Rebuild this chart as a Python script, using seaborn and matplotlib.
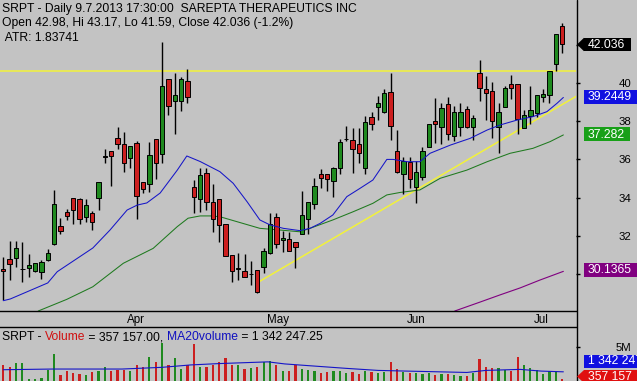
import numpy as np
import pandas as pd
import matplotlib
matplotlib.use("Agg")
import matplotlib.pyplot as plt
import seaborn as sns
from matplotlib.lines import Line2D
from matplotlib.patches import Polygon, Rectangle
import matplotlib.transforms as mtransforms

# ---------------- data ----------------
opens = [30.25, 30.77, 30.82, 30.25, 30.33, 30.17, 30.12, 30.73, 31.55, 32.50,
         33.25, 33.96, 33.91, 33.00, 33.19, 33.96, 36.14, 36.42, 37.10, 36.79,
         36.06, 36.84, 34.83, 34.71, 37.05, 36.27, 40.19, 39.04, 39.04, 40.12,
         34.53, 33.94, 35.30, 33.78, 33.91, 32.60, 30.99, 30.25, 30.17, 29.98,
         30.21, 30.35, 31.08, 33.00, 31.78, 31.83, 31.66, 32.09, 32.86, 33.65,
         35.22, 35.22, 34.87, 35.53, 37.07, 37.02, 36.79, 35.57, 38.20, 38.73,
         38.50, 39.51, 36.44, 35.22, 35.88, 34.57, 35.09, 36.66, 38.01, 37.71,
         38.88, 37.24, 37.71, 38.62, 37.71, 40.51, 39.69, 39.58, 37.71, 38.76,
         39.93, 39.93, 37.63, 38.27, 38.41, 39.25, 39.37, 40.98, 42.98]
highs = [30.91, 31.73, 31.73, 31.66, 31.05, 30.60, 30.73, 31.29, 34.40, 32.95,
         33.40, 33.96, 33.96, 33.94, 33.30, 34.80, 36.53, 36.42, 37.71, 37.42,
         36.70, 36.98, 34.83, 36.90, 37.05, 42.16, 40.19, 40.54, 40.30, 40.72,
         34.92, 35.53, 35.53, 34.70, 33.91, 32.60, 30.99, 31.08, 31.05, 30.68,
         30.21, 31.34, 33.21, 33.21, 32.25, 32.21, 31.66, 34.35, 33.78, 35.01,
         35.48, 35.22, 35.62, 37.05, 37.75, 37.66, 37.66, 38.27, 38.50, 39.32,
         39.67, 40.51, 37.54, 36.14, 36.14, 35.93, 36.66, 37.84, 39.20, 38.97,
         39.25, 38.80, 38.94, 38.80, 38.32, 41.20, 40.37, 40.07, 38.94, 39.84,
         40.42, 39.93, 38.59, 39.84, 39.37, 39.69, 40.63, 42.57, 43.17]
lows = [28.64, 29.69, 30.35, 29.60, 29.86, 30.12, 29.72, 30.70, 31.52, 32.09,
        32.83, 32.60, 32.62, 32.74, 32.30, 33.35, 35.83, 34.62, 36.54, 35.36,
        35.53, 32.86, 34.22, 34.31, 34.96, 35.80, 38.32, 37.33, 38.55, 38.94,
        33.18, 33.26, 33.35, 32.21, 31.69, 30.94, 29.60, 29.69, 29.83, 29.42,
        28.99, 30.07, 31.05, 31.34, 31.17, 31.20, 30.30, 32.07, 32.08, 33.39,
        34.49, 34.36, 34.05, 35.22, 36.96, 35.30, 35.80, 35.22, 37.54, 38.06,
        38.44, 37.02, 35.27, 34.19, 34.49, 33.70, 34.92, 36.64, 36.84, 36.81,
        37.02, 36.96, 37.22, 37.63, 37.02, 39.06, 38.06, 37.14, 36.35, 38.76,
        39.15, 37.31, 37.63, 37.84, 38.24, 38.99, 38.94, 40.63, 41.59]
closes = [30.14, 30.51, 31.34, 30.25, 30.45, 30.56, 30.61, 31.08, 33.66, 32.27,
          33.05, 33.33, 32.86, 33.60, 32.71, 34.80, 36.14, 36.19, 36.79, 35.80,
          36.70, 34.08, 34.43, 36.21, 35.83, 39.86, 38.80, 39.36, 40.19, 39.28,
          34.03, 35.18, 33.75, 32.86, 32.55, 30.96, 30.17, 30.33, 29.83, 29.98,
          29.07, 31.20, 32.62, 31.55, 31.90, 31.22, 31.43, 33.09, 33.78, 34.61,
          35.04, 34.96, 35.53, 36.90, 37.07, 36.53, 36.35, 37.97, 37.84, 38.97,
          39.49, 37.75, 35.32, 35.93, 34.96, 35.32, 36.44, 37.84, 37.84, 38.68,
          37.31, 38.50, 38.50, 37.71, 38.18, 39.75, 39.49, 38.01, 38.50, 39.75,
          39.72, 38.10, 38.32, 38.59, 39.37, 39.42, 40.63, 42.57, 42.036]
volumes_m = [2.3, 2.1, 2.6, 2.6, 0.3, 0.3, 0.4, 1.6, 3.95, 0.9,
             1.4, 1.1, 1.0, 0.9, 1.3, 1.5, 2.1, 1.5, 1.6, 1.6,
             1.5, 2.3, 2.1, 3.5, 2.8, 5.5, 2.4, 3.3, 1.8, 2.3,
             5.4, 2.1, 2.1, 2.3, 2.8, 3.3, 2.4, 2.3, 1.8, 1.9,
             2.1, 2.8, 2.9, 2.3, 1.4, 1.5, 2.3, 1.8, 1.6, 1.5,
             1.1, 1.3, 1.4, 1.4, 1.2, 1.3, 1.0, 1.5, 1.3, 1.2,
             1.3, 2.8, 1.8, 1.3, 1.2, 1.1, 1.0, 1.1, 0.9, 1.0,
             1.0, 0.9, 0.8, 0.8, 1.2, 3.2, 2.1, 1.9, 1.9, 1.6,
             1.5, 3.5, 2.3, 1.9, 1.6, 1.0, 1.5, 1.5, 0.36]

ma20_idx = [0, 1.1, 7.0, 8.5, 14.1, 16.8, 19.5, 21.1, 22.6, 24.7, 27.4, 28.9, 31.0,
            34.1, 36.2, 38.4, 40.4, 42.0, 44.1, 46.7, 48.3, 49.9, 51.9, 54.1,
            56.2, 58.2, 60.4, 61.4, 63.6, 65.6, 67.2, 70.4, 73.5, 76.2, 78.2,
            80.9, 83.4, 85.6, 87.2, 88.2]
ma20_val = [28.6, 28.69, 29.53, 30.12, 31.36, 32.30, 33.35, 33.61, 33.72, 34.24, 35.44,
            36.18, 35.89, 35.36, 34.75, 33.78, 32.83, 32.57, 32.39, 32.27, 32.39,
            32.65, 33.09, 34.05, 34.49, 34.92, 36.00, 36.00, 35.88, 35.88, 36.32,
            36.75, 37.10, 37.54, 37.80, 38.06, 38.24, 38.50, 38.94, 39.2449]
ma50_idx = [5.5, 10.0, 14.1, 18.9, 23.6, 27.4, 29.1, 31.0, 32.6, 34.1, 37.3, 40.4,
            43.6, 46.7, 48.3, 51.9, 55.1, 58.2, 60.4, 62.5, 65.6, 68.8, 73.0,
            76.2, 79.8, 83.4, 86.1, 88.2]
ma50_val = [28.06, 28.67, 29.33, 30.56, 31.34, 32.48, 32.92, 33.04, 33.04, 33.00,
            32.69, 32.39, 32.30, 32.21, 32.39, 32.83, 33.26, 33.70, 34.14, 34.27,
            34.40, 35.01, 35.44, 35.88, 36.32, 36.58, 36.93, 37.282]
ma200_idx = [71.1, 75.1, 78.2, 81.4, 84.5, 88.2]
ma200_val = [28.06, 28.53, 28.90, 29.27, 29.68, 30.1365]
volma_idx = [0, 7.8, 18.7, 25.0, 29.5, 34.0, 41.7, 44.3, 48.0, 54.0, 59.0, 63.5,
             73.0, 76.0, 81.4, 84.7, 88.2]
volma_val = [1.65, 1.75, 1.75, 2.00, 2.35, 2.55, 2.80, 2.50, 2.25, 1.85, 1.55,
             1.45, 1.25, 1.55, 1.70, 1.45, 1.342]

resistance = 40.63
trend_idx = [40, 90.2]
trend_val = [29.54, 39.30]

month_idx = [19, 41, 63, 83]
month_labels = ["Apr", "May", "Jun", "Jul"]
price_ticks = [30, 32, 34, 36, 38, 40, 42]
price_tick_labels = ["", "32", "34", "36", "38", "40", "42"]
vol_ticks = [5]
vol_tick_labels = ["5M"]

header_lines = ["SRPT - Daily 9.7.2013 17:30:00  SAREPTA THERAPEUTICS INC",
                "Open 42.98, Hi 43.17, Lo 41.59, Close 42.036 (-1.2%)",
                " ATR: 1.83741"]
vol_header_parts = ["SRPT - ", "Volume", " = 357 157.00, ", "MA20volume", " = 1 342 247.25"]
vol_header_colors = ["black", "#d01010", "black", "#1010c0", "black"]
price_box_labels = ["42.036", "39.2449", "37.282", "30.1365"]
vol_box_labels = ["1 342 247", "357 157"]

# ---------------- style ----------------
sns.set_theme(style="white")
plt.rcParams['font.family'] = ['Liberation Sans', 'DejaVu Sans']
BG = '#c3c3c3'
RED = '#cc1f1f'
GREEN = '#1f8a1f'

W, H = 637, 381
fig = plt.figure(figsize=(W / 100, H / 100), dpi=100)
fig.patch.set_facecolor(BG)


def fx(px):
    return px / W


def fy(py):
    return 1 - py / H


ax = fig.add_axes([0, fy(311), fx(576), 311 / H])
axv = fig.add_axes([0, 0, fx(576), (381 - 327) / H])
for a in (ax, axv):
    a.set_facecolor(BG)
    for s in a.spines.values():
        s.set_visible(False)

df = pd.DataFrame({"i": np.arange(len(opens)), "open": opens, "high": highs,
                   "low": lows, "close": closes, "vol": volumes_m})
o = df["open"].to_numpy()
c = df["close"].to_numpy()
x = df["i"].to_numpy()
colors = np.where(c > o, GREEN, np.where(c < o, RED, 'black'))
vcolors = np.where(c >= o, GREEN, RED)

# lines behind candles
ax.axhline(resistance, color='#f2f23a', lw=1.1, zorder=1)
sns.lineplot(x=trend_idx, y=trend_val, ax=ax, color='#f2f23a', lw=1.1, zorder=1)
sns.lineplot(x=ma50_idx, y=ma50_val, ax=ax, color='#1f7a1f', lw=0.75, zorder=1)
sns.lineplot(x=ma200_idx, y=ma200_val, ax=ax, color='#800080', lw=0.8, zorder=1)
sns.lineplot(x=ma20_idx, y=ma20_val, ax=ax, color='#1515c8', lw=0.75, zorder=4)

# candles
ax.vlines(x, df["low"], df["high"], color='black', lw=1.0, zorder=2)
body_h = np.maximum(np.abs(c - o), 0.025)
ax.bar(x, body_h, bottom=np.minimum(o, c), width=0.68, color=colors,
       edgecolor='black', linewidth=0.7, zorder=3)

ax.set_xlim(-0.52, 90.19)
ax.set_ylim(28.06, 44.35)
ax.spines['bottom'].set_visible(True)
ax.spines['bottom'].set_color('black')
ax.spines['bottom'].set_linewidth(1)

ax.yaxis.tick_right()
ax.set_yticks(price_ticks)
ax.set_yticklabels(price_tick_labels)
ax.tick_params(axis='y', which='both', direction='out', length=3, width=1,
               colors='black', labelsize=8.2, pad=37, right=True, left=False)
for lab in ax.get_yticklabels():
    lab.set_horizontalalignment('right')

ax.set_xticks(month_idx)
ax.set_xticklabels(month_labels)
ax.tick_params(axis='x', direction='out', length=5, width=1, colors='black',
               labelsize=8.4, pad=-3)
off = mtransforms.ScaledTranslation(0.035, 0, fig.dpi_scale_trans)
for lab in ax.get_xticklabels():
    lab.set_horizontalalignment('left')
    lab.set_transform(lab.get_transform() + off)
ax.set_xlabel("")
ax.set_ylabel("")

# volume
axv.bar(x, df["vol"], width=0.36, color=vcolors, linewidth=0, antialiased=False, zorder=2)
sns.lineplot(x=volma_idx, y=volma_val, ax=axv, color='#1515c8', lw=0.8, zorder=3)
axv.set_xlim(-0.52, 90.19)
axv.set_ylim(0, 7.9)
axv.spines['top'].set_visible(True)
axv.spines['top'].set_color('black')
axv.spines['top'].set_linewidth(1)
axv.yaxis.tick_right()
axv.set_yticks(vol_ticks)
axv.set_yticklabels(vol_tick_labels)
axv.tick_params(axis='y', direction='out', length=3, width=1, colors='black',
                labelsize=8.2, pad=37, right=True, left=False)
for lab in axv.get_yticklabels():
    lab.set_horizontalalignment('right')
axv.tick_params(axis='x', bottom=False, labelbottom=False)
axv.set_xlabel("")
axv.set_ylabel("")

# right vertical separator
fig.add_artist(Line2D([fx(576.5)] * 2, [0, 1], transform=fig.transFigure,
                      color='black', lw=1, zorder=8))

# header text
for line, yc in zip(header_lines, [9, 23, 38]):
    fig.text(fx(2), fy(yc), line, fontsize=8.7, va='center', ha='left', color='black')

# volume header
t = fig.text(fx(2), fy(343), vol_header_parts[0], fontsize=8.7, va='bottom',
             ha='left', color=vol_header_colors[0])
for part, col in zip(vol_header_parts[1:], vol_header_colors[1:]):
    t = axv.annotate(part, xy=(1, 0), xycoords=t, va='bottom', ha='left',
                     fontsize=8.7, color=col, annotation_clip=False)


def value_box(x0, x1, yc, h, color, text, arrow=False):
    fig.add_artist(Rectangle((fx(x0), fy(yc + h / 2)), (x1 - x0) / W, h / H,
                             transform=fig.transFigure, facecolor=color,
                             edgecolor='none', zorder=10))
    if arrow:
        fig.add_artist(Polygon([(fx(x0 - 7), fy(yc)), (fx(x0), fy(yc - h / 2)),
                                (fx(x0), fy(yc + h / 2))], closed=True,
                               transform=fig.transFigure, facecolor=color,
                               edgecolor='none', zorder=10))
    fig.text(fx(x0 + 3.5), fy(yc), text, color='white', fontsize=8.7,
             va='center', ha='left', zorder=11)


value_box(584, 630.5, 44.5, 13.5, 'black', price_box_labels[0], arrow=True)
value_box(584, 640, 97, 14, '#1010e0', price_box_labels[1])
value_box(584, 630, 134.5, 14, '#18a018', price_box_labels[2])
value_box(584, 640, 270.3, 14, '#800080', price_box_labels[3])
value_box(584, 640, 361.5, 13, '#1010e0', vol_box_labels[0])
value_box(584, 640, 376.5, 13, '#e01010', vol_box_labels[1], arrow=True)

fig.savefig("out.png", dpi=100, facecolor=BG)
